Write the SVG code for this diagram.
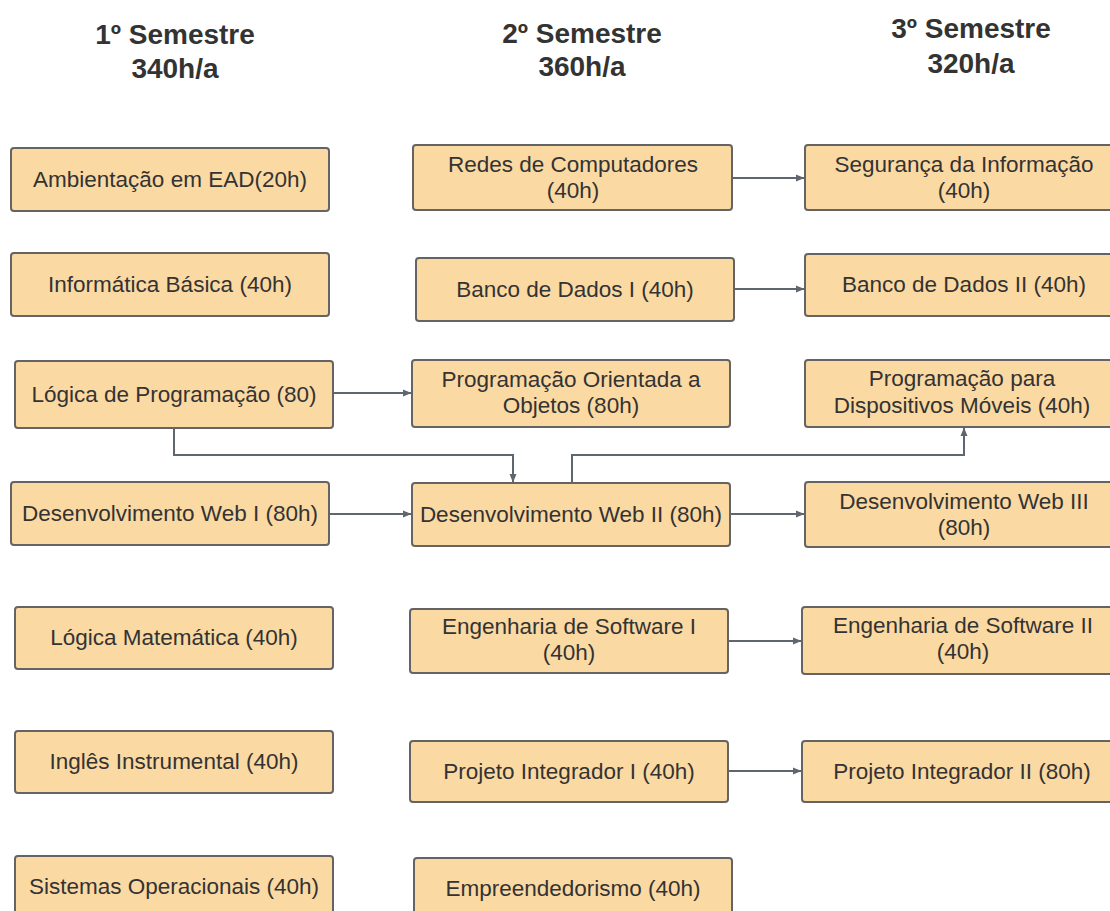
<svg xmlns="http://www.w3.org/2000/svg" width="1110" height="911" viewBox="0 0 1110 911">
<style>
.box{fill:#FBD9A3;stroke:#646464;stroke-width:2}
.t{font-family:"Liberation Sans",Arial,sans-serif;font-size:22.5px;fill:#333;text-anchor:middle}
.h{font-family:"Liberation Sans",Arial,sans-serif;font-size:28px;font-weight:bold;fill:#333;text-anchor:middle}
.c{fill:none;stroke:#5E6670;stroke-width:2}
</style>
<defs>
<marker id="arr" markerWidth="9" markerHeight="8" refX="8" refY="4" orient="auto" markerUnits="userSpaceOnUse">
<path d="M0,0.5 L8.5,4 L0,7.5 z" fill="#5E6670"/>
</marker>
</defs>
<rect width="1110" height="911" fill="#fff"/>
<g id="headers">
<text class="h" x="175" y="44">1º Semestre</text>
<text class="h" x="175" y="78">340h/a</text>
<text class="h" x="582" y="43">2º Semestre</text>
<text class="h" x="582" y="76">360h/a</text>
<text class="h" x="971" y="38">3º Semestre</text>
<text class="h" x="971" y="73">320h/a</text>
</g>
<g id="connectors">
<path class="c" d="M732,178 H804" marker-end="url(#arr)"/>
<path class="c" d="M734,289 H804" marker-end="url(#arr)"/>
<path class="c" d="M333,393 H411" marker-end="url(#arr)"/>
<path class="c" d="M174,428 V455 H513 V482" marker-end="url(#arr)"/>
<path class="c" d="M572,483 V455 H964 V428" marker-end="url(#arr)"/>
<path class="c" d="M329,514 H411" marker-end="url(#arr)"/>
<path class="c" d="M730,514 H804" marker-end="url(#arr)"/>
<path class="c" d="M728,641 H801" marker-end="url(#arr)"/>
<path class="c" d="M728,771 H801" marker-end="url(#arr)"/>
</g>
<g id="n-ambientacao"><rect class="box" x="11" y="148" width="318" height="63" rx="3"/><text class="t" x="170" y="187">Ambientação em EAD(20h)</text></g>
<g id="n-informatica"><rect class="box" x="11" y="253" width="318" height="63" rx="3"/><text class="t" x="170" y="292">Informática Básica (40h)</text></g>
<g id="n-logprog"><rect class="box" x="15" y="361" width="318" height="67" rx="3"/><text class="t" x="174" y="402">Lógica de Programação (80)</text></g>
<g id="n-dweb1"><rect class="box" x="11" y="482" width="318" height="63" rx="3"/><text class="t" x="170" y="521">Desenvolvimento Web I (80h)</text></g>
<g id="n-logmat"><rect class="box" x="15" y="607" width="318" height="62" rx="3"/><text class="t" x="174" y="645">Lógica Matemática (40h)</text></g>
<g id="n-ingles"><rect class="box" x="15" y="731" width="318" height="62" rx="3"/><text class="t" x="174" y="769">Inglês Instrumental (40h)</text></g>
<g id="n-so"><rect class="box" x="15" y="856" width="318" height="70" rx="3"/><text class="t" x="174" y="894">Sistemas Operacionais (40h)</text></g>
<g id="n-redes"><rect class="box" x="413" y="145" width="319" height="65" rx="3"/><text class="t" x="573" y="172">Redes de Computadores</text><text class="t" x="573" y="198">(40h)</text></g>
<g id="n-bd1"><rect class="box" x="416" y="258" width="318" height="63" rx="3"/><text class="t" x="575" y="297">Banco de Dados I (40h)</text></g>
<g id="n-poo"><rect class="box" x="412" y="360" width="318" height="67" rx="3"/><text class="t" x="571" y="387">Programação Orientada a</text><text class="t" x="571" y="413">Objetos (80h)</text></g>
<g id="n-dweb2"><rect class="box" x="412" y="483" width="318" height="63" rx="3"/><text class="t" x="571" y="522">Desenvolvimento Web II (80h)</text></g>
<g id="n-es1"><rect class="box" x="410" y="609" width="318" height="64" rx="3"/><text class="t" x="569" y="634">Engenharia de Software I</text><text class="t" x="569" y="660">(40h)</text></g>
<g id="n-pi1"><rect class="box" x="410" y="741" width="318" height="61" rx="3"/><text class="t" x="569" y="779">Projeto Integrador I (40h)</text></g>
<g id="n-empre"><rect class="box" x="414" y="858" width="318" height="70" rx="3"/><text class="t" x="573" y="896">Empreendedorismo (40h)</text></g>
<g id="n-seg"><rect class="box" x="805" y="145" width="318" height="65" rx="3"/><text class="t" x="964" y="172">Segurança da Informação</text><text class="t" x="964" y="198">(40h)</text></g>
<g id="n-bd2"><rect class="box" x="805" y="254" width="318" height="62" rx="3"/><text class="t" x="964" y="292">Banco de Dados II (40h)</text></g>
<g id="n-pdm"><rect class="box" x="805" y="360" width="318" height="67" rx="3"/><text class="t" x="962" y="386">Programação para</text><text class="t" x="962" y="413">Dispositivos Móveis (40h)</text></g>
<g id="n-dweb3"><rect class="box" x="805" y="482" width="318" height="65" rx="3"/><text class="t" x="964" y="509">Desenvolvimento Web III</text><text class="t" x="964" y="535">(80h)</text></g>
<g id="n-es2"><rect class="box" x="802" y="607" width="320" height="67" rx="3"/><text class="t" x="963" y="633">Engenharia de Software II</text><text class="t" x="963" y="659">(40h)</text></g>
<g id="n-pi2"><rect class="box" x="802" y="741" width="320" height="61" rx="3"/><text class="t" x="962" y="779">Projeto Integrador II (80h)</text></g>
</svg>
